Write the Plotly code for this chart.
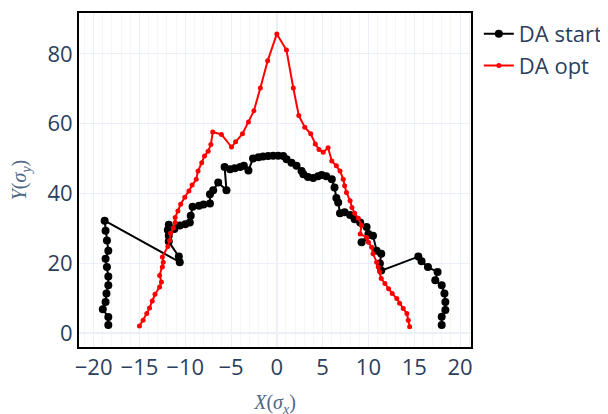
import plotly.graph_objects as go

# DA start (black) - ordered along the aperture contour
start_x = [-18.4, -18.4, -19.0, -18.7, -18.6, -18.4, -18.4, -18.55, -18.7, -18.4, -18.55, -18.7, -18.8,
           -10.6, -10.7, -11.8, -11.8, -11.9, -11.8, -11.2, -10.6, -10.0, -9.5, -9.4, -9.2, -8.5, -8.0,
           -7.3, -7.3, -6.95, -6.4, -5.5, -5.7, -5.1, -4.6, -4.0, -3.6, -3.1, -2.6, -2.0, -1.5, -0.95,
           -0.4, 0.15, 0.7, 1.06, 1.6, 2.15, 2.7, 2.9, 3.4, 3.97, 4.5, 4.9, 5.4, 6.0, 6.3, 6.5, 6.7, 6.9,
           7.4, 8.0, 8.5, 9.1, 9.8, 10.0, 9.25, 10.5, 10.9, 11.4, 11.25, 11.4,
           15.45, 15.8, 16.5, 17.55, 17.3, 18.0, 18.3, 18.4, 18.4, 18.0, 18.0]
start_y = [2.3, 4.6, 6.8, 8.9, 11.3, 13.7, 16.2, 18.9, 21.3, 23.6, 26.5, 29.3, 32.2,
           20.3, 21.9, 26.2, 27.9, 29.5, 31.0, 29.8, 30.8, 31.2, 31.7, 33.6, 36.2, 36.5, 36.8,
           37.1, 39.8, 40.9, 43.1, 40.9, 47.6, 46.9, 47.2, 47.6, 47.9, 46.6, 50.0, 50.4, 50.6, 50.7,
           50.8, 50.8, 50.7, 49.8, 48.8, 47.9, 46.4, 45.5, 44.7, 44.4, 44.9, 45.3, 44.9, 44.1, 41.7, 38.7, 37.4, 34.3,
           34.6, 33.8, 32.6, 31.7, 30.4, 28.4, 26.0, 27.9, 23.6, 22.7, 19.9, 17.9,
           21.9, 20.6, 18.9, 17.5, 15.1, 13.7, 11.3, 8.9, 6.6, 4.7, 2.3]

# DA opt (red)
opt_x = [-15.0, -14.6, -14.2, -13.9, -13.6, -13.3, -12.8, -12.6, -12.8, -12.5, -12.4, -12.5, -11.9, -11.7,
         -11.6, -11.3, -11.1, -11.1, -10.8, -10.5, -10.05, -9.6, -9.25, -8.8, -8.6, -8.2, -7.9, -7.5, -7.2,
         -7.0, -6.05, -4.95, -4.5, -3.75, -3.1, -2.5, -1.8, -1.0, 0.0, 1.05, 1.8, 2.4, 3.05, 3.7, 4.2, 4.6,
         5.06, 5.6, 6.0, 6.5, 6.9, 7.25, 7.4, 7.6, 8.0, 8.2, 8.5, 8.9, 9.25, 9.1, 9.8, 10.0, 10.35, 10.5,
         10.9, 11.07, 11.25, 11.4, 11.8, 12.2, 12.6, 13.1, 13.4, 13.8, 14.2, 14.35, 14.5]
opt_y = [2.0, 3.7, 5.6, 7.2, 9.2, 11.1, 13.2, 14.6, 16.5, 18.9, 20.3, 21.8, 24.8, 26.5,
         28.6, 30.1, 31.7, 33.1, 35.0, 36.9, 38.9, 40.7, 42.4, 44.1, 46.4, 48.8, 50.7, 52.1, 54.0,
         57.6, 56.9, 53.3, 54.8, 57.1, 60.5, 63.7, 70.2, 78.0, 85.7, 81.1, 70.2, 62.3, 59.0, 57.1, 54.2, 52.6,
         51.8, 53.1, 49.3, 47.9, 46.4, 44.1, 42.2, 40.3, 37.9, 36.0, 34.3, 32.9, 30.8, 28.4, 27.4, 26.0, 24.6, 22.7,
         20.3, 18.9, 17.5, 15.6, 14.2, 12.7, 11.3, 9.9, 8.5, 7.0, 5.6, 3.7, 1.8]

x_ticks = [-20, -15, -10, -5, 0, 5, 10, 15, 20]
y_ticks = [0, 20, 40, 60, 80]

fig = go.Figure()
fig.add_trace(go.Scatter(x=start_x, y=start_y, mode="lines+markers", name="DA start",
                         line=dict(color="black", width=2), marker=dict(size=8, color="black")))
fig.add_trace(go.Scatter(x=opt_x, y=opt_y, mode="lines+markers", name="DA opt",
                         line=dict(color="red", width=2), marker=dict(size=5, color="red")))

title_font = dict(family="Liberation Serif", size=20, color="#506784")
fig.update_layout(
    template="plotly_white", width=608, height=414,
    margin=dict(l=71, r=145, t=3, b=75),
    font=dict(family="Open Sans, verdana, arial, sans-serif", size=22, color="#2a3f5f"),
    legend=dict(x=1.02, y=1, font=dict(size=22)),
)
fig.update_xaxes(range=[-21.6, 21.2], tickvals=x_ticks, showline=True, linecolor="black", linewidth=2,
                 mirror=True, gridcolor="#EBF0F8",
                 minor=dict(dtick=1, showgrid=True, gridcolor="#F4F6FB"),
                 title=dict(text="<i>X</i>(<i>σ<sub>x</sub></i>)", font=title_font))
fig.update_yaxes(range=[-4, 91.7], tickvals=y_ticks, showline=True, linecolor="black", linewidth=2,
                 mirror=True, gridcolor="#EBF0F8",
                 title=dict(text="<i>Y</i>(<i>σ<sub>y</sub></i>)", font=title_font))

fig.write_html("out.html")
